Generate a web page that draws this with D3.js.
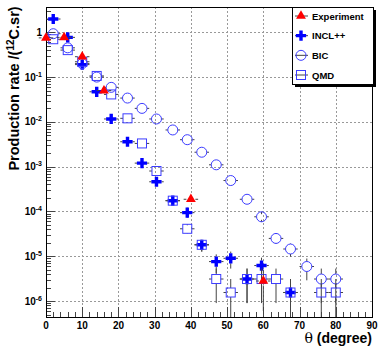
<!DOCTYPE html>
<html>
<head>
<meta charset="utf-8">
<script src="https://cdn.jsdelivr.net/npm/d3@7"></script>
<style>
  body { margin: 0; background: #fff; }
  text { font-family: "Liberation Sans", Arial, sans-serif; font-weight: bold; }
</style>
</head>
<body>
<div id="chart"></div>
<script>
// values
const expTheta = [0, 5, 10, 16, 40, 60];
const expVal   = [0.75, 0.77, 0.285, 0.05, 1.87e-4, 2.8e-6];
const expYErr  = [0, 0, 0, 0, 0, 2.2e-6];

const inclTheta = [2, 6, 10, 14, 18, 22.5, 26.5, 30.5, 35, 39, 43, 47, 51, 55.5, 59.5, 67.5];
const inclVal   = [1.98, 0.77, 0.19, 0.047, 0.0116, 0.0036, 0.0012, 4.6e-4, 1.74e-4, 9.4e-5, 1.8e-5, 7.6e-6, 9e-6, 3.1e-6, 6.2e-6, 1.55e-6];
const inclYErr  = [0, 0, 0, 0, 0, 0, 0, 0, 0, 1.2e-5, 5.3e-6, 3.4e-6, 3.7e-6, 2.2e-6, 3.1e-6, 1.55e-6];

const bicTheta = [2, 6, 10, 14, 18, 22.5, 26.5, 30.5, 35, 39, 43, 47, 51, 55.5, 59.5, 63.5, 67.5, 72, 76, 80];
const bicVal   = [0.93, 0.45, 0.2, 0.1, 0.059, 0.034, 0.02, 0.0116, 0.0066, 0.004, 0.0021, 0.0011, 4.9e-4, 1.87e-4, 7.6e-5, 2.5e-5, 1.45e-5, 5.9e-6, 3.1e-6, 3.1e-6];
const bicYErr  = [0, 0, 0, 0, 0, 0, 0, 0, 0, 0, 0, 0, 0, 0, 1.1e-5, 6.2e-6, 4.7e-6, 3e-6, 2.2e-6, 2.2e-6];

const qmdTheta = [2, 6, 10, 14, 18, 22.5, 26.5, 30.5, 35, 39, 43, 47, 51, 55.5, 59.5, 63.5, 67.5, 76, 80];
const qmdVal   = [0.7, 0.4, 0.22, 0.106, 0.041, 0.012, 0.0033, 8e-4, 1.74e-4, 4.1e-5, 1.8e-5, 3.1e-6, 1.55e-6, 3.1e-6, 3.1e-6, 3.1e-6, 1.55e-6, 1.55e-6, 1.55e-6];
const qmdYErr  = [0, 0, 0, 0, 0, 0, 0, 0, 0, 8e-6, 5.3e-6, 2.2e-6, 1.55e-6, 2.2e-6, 2.2e-6, 2.2e-6, 1.55e-6, 1.55e-6, 1.55e-6];

const xErr = 2;
const xTicks = [0, 10, 20, 30, 40, 50, 60, 70, 80, 90];
const yTicks = [1e-6, 1e-5, 1e-4, 1e-3, 1e-2, 1e-1, 1];
const yTickLabels = ["-6", "-5", "-4", "-3", "-2", "-1", ""];
const legendNames = ["Experiment", "INCL++", "BIC", "QMD"];

const W = 379, H = 348;
const margin = {top: 7, right: 7, bottom: 31, left: 46};

const svg = d3.select("#chart").append("svg")
  .attr("width", W).attr("height", H);

const x = d3.scaleLinear().domain([0, 90]).range([margin.left, W - margin.right]);
const y = d3.scaleLog().domain([4.4e-7, 3.67]).range([H - margin.bottom, margin.top]);

const x0 = x.range()[0], x1 = x.range()[1], yb = y.range()[0], yt = y.range()[1];

// grid
const grid = svg.append("g").attr("stroke", "#999").attr("stroke-dasharray", "2,2").attr("shape-rendering", "crispEdges");
grid.selectAll(".gx").data(xTicks.slice(1, -1)).join("line")
  .attr("x1", d => Math.round(x(d)) + 0.5).attr("x2", d => Math.round(x(d)) + 0.5)
  .attr("y1", yt).attr("y2", yb);
grid.selectAll(".gy").data(yTicks).join("line")
  .attr("y1", d => Math.round(y(d)) + 0.5).attr("y2", d => Math.round(y(d)) + 0.5)
  .attr("x1", x0).attr("x2", x1);

// ticks (inside, ROOT style)
const tk = svg.append("g").attr("stroke", "#444").attr("shape-rendering", "crispEdges");
tk.selectAll(".xt").data(d3.range(0, 91, 2)).join("line")
  .attr("x1", d => Math.round(x(d)) + 0.5).attr("x2", d => Math.round(x(d)) + 0.5)
  .attr("y1", yb).attr("y2", d => d % 10 === 0 ? yb - 10 : yb - 5);
const yMinor = [];
for (let e = -7; e <= 0; e++) for (let m = 1; m < 10; m++) {
  const v = m * Math.pow(10, e);
  if (v >= y.domain()[0] && v <= y.domain()[1]) yMinor.push({v, major: m === 1});
}
tk.selectAll(".yt").data(yMinor).join("line")
  .attr("y1", d => Math.round(y(d.v)) + 0.5).attr("y2", d => Math.round(y(d.v)) + 0.5)
  .attr("x1", x0).attr("x2", d => d.major ? x0 + 9 : x0 + 5);

// tick labels
svg.append("g").selectAll("text").data(xTicks).join("text")
  .attr("x", d => x(d)).attr("y", yb + 12)
  .attr("text-anchor", "middle").attr("font-size", 10).text(d => d);

const yl = svg.append("g").selectAll("text").data(yTicks).join("text")
  .attr("x", x0 - 4).attr("y", d => y(d) + 3.5)
  .attr("text-anchor", "end").attr("font-size", 10);
yl.each(function(d, i) {
  const t = d3.select(this);
  if (d === 1) { t.text("1"); return; }
  t.append("tspan").text("10");
  t.append("tspan").attr("font-size", 7).attr("dy", -4).text(yTickLabels[i]);
});

// axis titles
svg.append("text")
  .attr("transform", `translate(18.5,${(yt + 170) / 2}) rotate(-90)`)
  .attr("text-anchor", "middle").attr("font-size", 14.5)
  .call(t => {
    t.append("tspan").text("Production rate /(");
    t.append("tspan").attr("font-size", 10).attr("dy", -5).text("12");
    t.append("tspan").attr("dy", 5).text("C.sr)");
  });
svg.append("text")
  .attr("x", x1).attr("y", H - 5).attr("text-anchor", "end").attr("font-size", 14)
  .call(t => {
    t.append("tspan").attr("font-weight", "normal").attr("font-family", "DejaVu Serif").text("θ");
    t.append("tspan").text(" (degree)");
  });

// frame
svg.append("rect").attr("x", x0 + 0.5).attr("y", yt + 0.5)
  .attr("width", x1 - x0).attr("height", yb - yt)
  .attr("fill", "none").attr("stroke", "#000").attr("shape-rendering", "crispEdges");

// series
const series = [
  {name: "INCL++", theta: inclTheta, val: inclVal, yerr: inclYErr, kind: "cross", half: 5},
  {name: "BIC", theta: bicTheta, val: bicVal, yerr: bicYErr, kind: "circle", half: 5},
  {name: "QMD", theta: qmdTheta, val: qmdVal, yerr: qmdYErr, kind: "square", half: 4.5},
  {name: "Experiment", theta: expTheta, val: expVal, yerr: expYErr, kind: "triangle", half: 4.5}
];

function drawMarker(g, kind, cx, cy) {
  if (kind === "cross") {
    g.append("path").attr("d", d3.symbol(d3.symbolCross, 58)())
      .attr("transform", `translate(${cx},${cy})`).attr("fill", "#0000ff");
  } else if (kind === "circle") {
    g.append("circle").attr("cx", cx).attr("cy", cy).attr("r", 5)
      .attr("fill", "none").attr("stroke", "#3c3cff").attr("stroke-width", 1);
  } else if (kind === "square") {
    g.append("rect").attr("x", cx - 4.5).attr("y", cy - 4.5).attr("width", 9).attr("height", 9)
      .attr("fill", "none").attr("stroke", "#3c3cff").attr("stroke-width", 1);
  } else {
    g.append("path").attr("d", d3.symbol(d3.symbolTriangle, 42)())
      .attr("transform", `translate(${cx},${cy})`).attr("fill", "#ff0000");
  }
}

series.forEach(s => {
  const g = svg.append("g");
  s.theta.forEach((t, i) => {
    const cx = x(t), cy = y(s.val[i]);
    const eb = g.append("g").attr("stroke", "#444").attr("stroke-width", 1);
    const l = x(t - xErr), r = x(t + xErr);
    eb.append("line").attr("x1", l).attr("x2", cx - s.half).attr("y1", cy).attr("y2", cy);
    eb.append("line").attr("x1", cx + s.half).attr("x2", r).attr("y1", cy).attr("y2", cy);
    if (s.yerr[i] > 0) {
      const lo = s.val[i] - s.yerr[i];
      const yLo = lo > y.domain()[0] ? y(lo) : yb;
      const yHi = y(s.val[i] + s.yerr[i]);
      eb.append("line").attr("x1", cx).attr("x2", cx).attr("y1", yHi).attr("y2", cy - s.half);
      eb.append("line").attr("x1", cx).attr("x2", cx).attr("y1", cy + s.half).attr("y2", yLo);
    }
    drawMarker(g, s.kind, cx, cy);
  });
});

// legend
const lg = svg.append("g");
const lx = 292, ly = yt, lw = 81, lh = 77;
lg.append("rect").attr("x", lx + 3).attr("y", ly + 3).attr("width", lw).attr("height", lh).attr("fill", "#000");
lg.append("rect").attr("x", lx + 0.5).attr("y", ly + 0.5).attr("width", lw).attr("height", lh)
  .attr("fill", "#fff").attr("stroke", "#000").attr("shape-rendering", "crispEdges");
const ly2 = d3.scalePoint().domain(legendNames).range([ly + 9, ly + 68]);
const kinds = {"Experiment": "triangle", "INCL++": "cross", "BIC": "circle", "QMD": "square"};
legendNames.forEach(n => {
  const cy = ly2(n);
  lg.append("line").attr("x1", lx + 3).attr("x2", lx + 16).attr("y1", cy).attr("y2", cy)
    .attr("stroke", "#444");
  drawMarker(lg, kinds[n], lx + 9, cy);
  lg.append("text").attr("x", lx + 20).attr("y", cy + 3.5).attr("font-size", 9.5).text(n);
});
</script>
</body>
</html>
